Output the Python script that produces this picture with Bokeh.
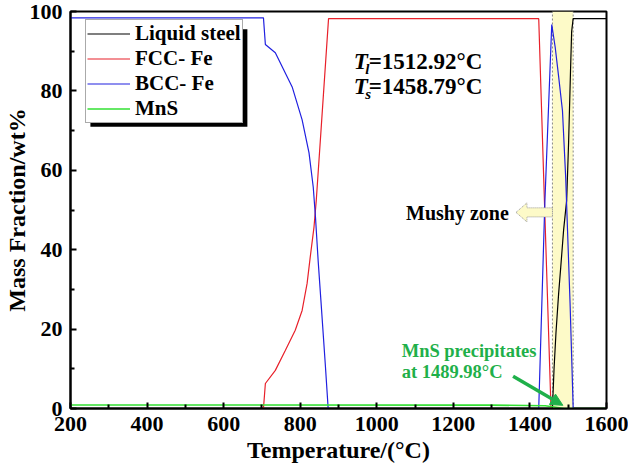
from bokeh.plotting import figure
from bokeh.models import Range1d, Legend, LegendItem, Arrow, NormalHead, FixedTicker
from bokeh.core.properties import value
from bokeh.embed import file_html
from bokeh.resources import INLINE

# ---- data ----
T_s = 1458.79
T_l = 1512.92
T_mns = 1489.98

liquid_T = [200, 1458.79, 1463, 1468, 1475, 1480.5, 1488, 1496, 1501, 1506, 1509, 1512.92, 1600]
liquid_v = [0, 0, 10, 19, 29, 35.6, 45, 52.5, 67, 85, 95, 98.2, 98.2]

fcc_T = [200, 704, 709, 735, 761, 787, 805, 818, 826, 836, 842, 855, 874, 1423, 1436, 1455, 1600]
fcc_v = [0, 0, 6.3, 9.6, 14.6, 19.7, 24.7, 31.5, 38, 45.7, 52.5, 71, 98.2, 98.2, 58, 0, 0]

bcc_T = [200, 704, 709, 735, 779, 805, 823, 834, 840, 847, 854, 866, 873, 1423,
         1439, 1457, 1466, 1475, 1485, 1493.5, 1496, 1505, 1513, 1600]
bcc_v = [98.4, 98.4, 91.7, 89.6, 81, 72.7, 64.4, 55.8, 48, 37, 27.3, 10.4, 0, 0,
         52, 96.7, 91, 83.6, 75, 58, 51, 26, 0, 0]

mns_T = [200, 1300, 1440, 1489.98, 1600]
mns_v = [0.9, 0.85, 0.7, 0, 0]

x_ticks = [200, 400, 600, 800, 1000, 1200, 1400, 1600]
y_ticks = [0, 20, 40, 60, 80, 100]

FONT = "Liberation Serif"
GREEN_TXT = "#1fb04a"

p = figure(width=628, height=469, x_range=Range1d(200, 1600), y_range=Range1d(0, 100),
           output_backend="svg", toolbar_location=None,
           min_border_left=67, min_border_right=22, min_border_top=11, min_border_bottom=61)
p.background_fill_color = "white"
p.border_fill_color = "white"
p.outline_line_color = "black"
p.outline_line_width = 2
p.xgrid.visible = False
p.ygrid.visible = False

# mushy zone band
p.quad(left=[T_s], right=[T_l], bottom=[0], top=[100], fill_color="#fdfac8", line_color=None)
p.segment(x0=[T_s, T_l], y0=[0, 0], x1=[T_s, T_l], y1=[100, 100],
          line_color="#888888", line_dash="2 2", line_width=1)

# curves
r_liq = p.line(liquid_T, liquid_v, line_color="black", line_width=1.2)
r_fcc = p.line(fcc_T, fcc_v, line_color="#e8202a", line_width=1.2)
r_bcc = p.line(bcc_T, bcc_v, line_color="#2020e0", line_width=1.2)
r_mns = p.line(mns_T, mns_v, line_color="#33e033", line_width=1.6)

# legend shadow
p.quad(left=[252], right=[662], bottom=[71], top=[95.5], fill_color="black", line_color=None)

legend = Legend(items=[LegendItem(label="Liquid steel", renderers=[r_liq]),
                       LegendItem(label="FCC- Fe", renderers=[r_fcc]),
                       LegendItem(label="BCC- Fe", renderers=[r_bcc]),
                       LegendItem(label="MnS", renderers=[r_mns])],
                location=(15, 285))
legend.label_text_font = FONT
legend.label_text_font_style = "bold"
legend.label_text_font_size = "21px"
legend.label_text_color = "black"
legend.glyph_width = 43
legend.glyph_height = 25
legend.label_height = 25
legend.spacing = 0
legend.padding = 1
legend.margin = 0
legend.label_standoff = 5
legend.border_line_color = "#555555"
legend.border_line_width = 1
legend.background_fill_color = "white"
legend.background_fill_alpha = 1
p.add_layout(legend)

# Tl / Ts annotation
p.text(x=[940, 940], y=[87.4, 81.1], text=["T", "T"], text_font=value(FONT),
       text_font_style="bold italic", text_font_size="23px", text_baseline="middle", text_align="left")
p.text(x=[970, 970], y=[85.4, 79.3], text=["l", "s"], text_font=value(FONT),
       text_font_style="bold italic", text_font_size="15px", text_baseline="middle", text_align="left")
p.text(x=[979, 979], y=[87.4, 81.1], text=["=%.2f°C" % T_l, "=%.2f°C" % T_s], text_font=value(FONT),
       text_font_style="bold", text_font_size="23px", text_baseline="middle", text_align="left")

# Mushy zone label and hollow arrow
p.text(x=[1345], y=[49.2], text=["Mushy zone"], text_font=value(FONT), text_font_style="bold",
       text_font_size="20px", text_baseline="middle", text_align="right")
ym, hh, hs = 49.4, 2.4, 1.14
tip, base = 1363.6, 1392.2
p.patch([tip, base, base, T_s, T_s, base, base, tip],
        [ym, ym + hh, ym + hs, ym + hs, ym - hs, ym - hs, ym - hh, ym],
        fill_color="#fdfac8", line_color="#999999", line_dash="1 1", line_width=1)

# MnS annotation
p.text(x=[1065, 1065], y=[14.6, 9.1], text=["MnS precipitates", "at %.2f°C" % T_mns],
       text_font=value(FONT), text_font_style="bold", text_font_size="18.5px",
       text_color=GREEN_TXT, text_baseline="middle", text_align="left")
p.add_layout(Arrow(end=NormalHead(size=12, fill_color=GREEN_TXT, line_color=GREEN_TXT),
                   x_start=1356, y_start=8.1, x_end=T_mns - 4, y_end=0.8,
                   line_color=GREEN_TXT, line_width=3.5))

# axes
for ax in (p.xaxis[0], p.yaxis[0]):
    ax.axis_line_width = 2
    ax.axis_line_color = "black"
    ax.major_tick_in = 6
    ax.major_tick_out = 0
    ax.minor_tick_in = 4
    ax.minor_tick_out = 0
    ax.major_tick_line_width = 2
    ax.minor_tick_line_width = 2
    ax.major_label_text_font = FONT
    ax.major_label_text_font_style = "bold"
    ax.major_label_text_font_size = "22px"
    ax.major_label_text_color = "black"
    ax.axis_label_text_font = FONT
    ax.axis_label_text_font_style = "bold"
    ax.axis_label_text_font_size = "24px"
    ax.axis_label_text_color = "black"

p.xaxis[0].ticker = FixedTicker(ticks=x_ticks, minor_ticks=[300, 500, 700, 900, 1100, 1300, 1500])
p.yaxis[0].ticker = FixedTicker(ticks=y_ticks, minor_ticks=[10, 30, 50, 70, 90])
p.xaxis[0].axis_label = "Temperature/(°C)"
p.yaxis[0].axis_label = "Mass Fraction/wt%"
p.xaxis[0].major_label_standoff = 8
p.xaxis[0].axis_label_standoff = 3
p.yaxis[0].major_label_standoff = 8
p.yaxis[0].axis_label_standoff = -3

open("out.html", "w").write(file_html(p, INLINE))
